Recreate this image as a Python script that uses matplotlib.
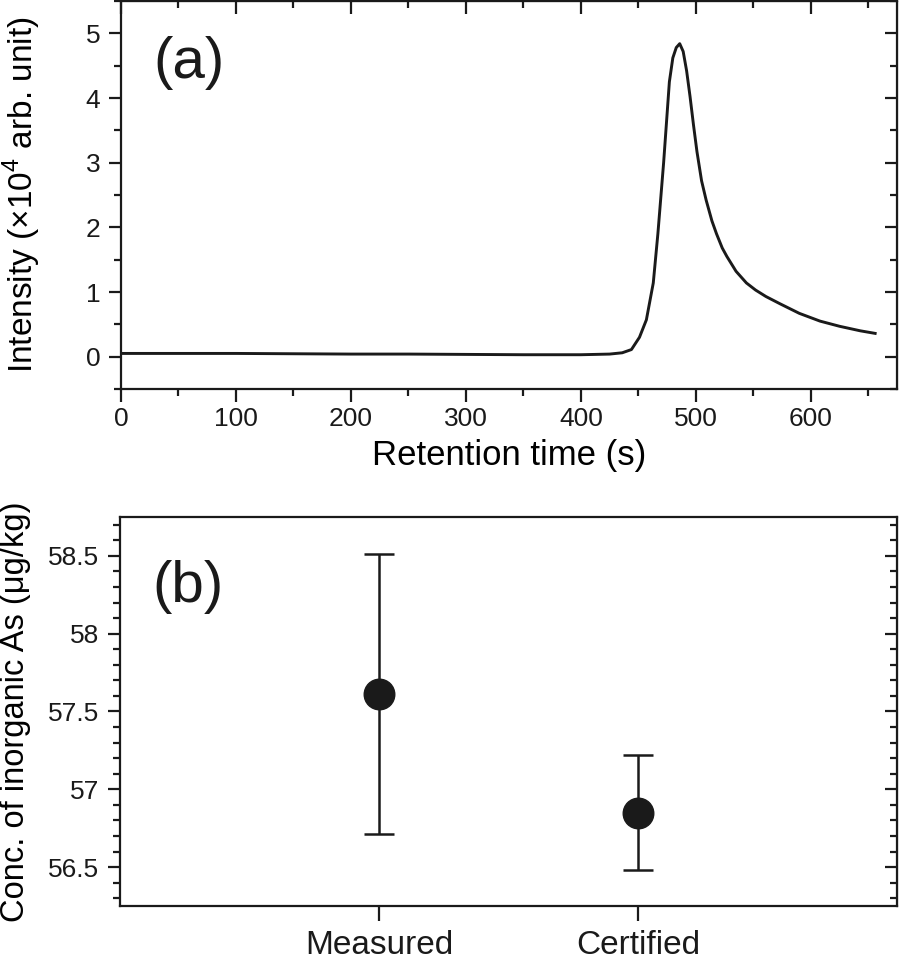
import matplotlib.pyplot as plt
from matplotlib.ticker import MultipleLocator
import numpy as np

plt.rcParams['font.family'] = ['Liberation Sans', 'DejaVu Sans']
plt.rcParams['mathtext.fontset'] = 'custom'
plt.rcParams['mathtext.rm'] = 'Liberation Sans'

# ============================================================
# DATA
# ============================================================

# (a) chromatogram
retention_time = [0, 50, 100, 150, 200, 250, 300, 350, 400, 425, 436, 444,
                  451, 457, 463, 467, 472, 477, 480, 483, 486, 489, 492,
                  495, 498, 501, 505, 509, 514, 518, 523, 527, 535, 544,
                  552, 561, 573, 590, 608, 625, 643, 656]
intensity = [0.05, 0.05, 0.05, 0.045, 0.04, 0.04, 0.035, 0.03, 0.03, 0.04,
             0.06, 0.11, 0.30, 0.57, 1.14, 1.90, 3.00, 4.25, 4.62, 4.78,
             4.84, 4.72, 4.42, 4.02, 3.58, 3.17, 2.72, 2.42, 2.10, 1.90,
             1.68, 1.55, 1.32, 1.14, 1.03, 0.93, 0.82, 0.67, 0.55, 0.47,
             0.40, 0.36]

# (b) inorganic As
samples = ["Measured", "Certified"]
conc = [57.61, 56.85]
conc_err = [0.90, 0.37]

# ============================================================
# FIGURE
# ============================================================

INK = "#1a1a1a"
TICK_FS = 19
LABEL_FS = 25

fig = plt.figure(figsize=(8.99, 9.6), dpi=100)

ax1 = fig.add_axes([121 / 899, 1 - 389 / 960, 776 / 899, 388 / 960])
ax2 = fig.add_axes([120 / 899, 1 - 906 / 960, 777 / 899, 389 / 960])

for ax in (ax1, ax2):
    for sp in ax.spines.values():
        sp.set_linewidth(1.6)
        sp.set_color(INK)
    ax.tick_params(which="both", width=1.6, labelsize=TICK_FS, colors=INK)
    ax.tick_params(which="major", length=9)
    ax.tick_params(which="minor", length=5)


def mirror_ticks(sec):
    # inward ticks on the opposite spine, no labels
    sec.tick_params(which="both", direction="in", width=1.6, colors=INK)
    sec.tick_params(which="major", length=9)
    sec.tick_params(which="minor", length=5)


# ---- (a) ----
ax1.plot(retention_time, intensity, color=INK, lw=2.1)
ax1.set_xlim(0, 675)
ax1.set_ylim(-0.5, 5.5)
ax1.xaxis.set_major_locator(MultipleLocator(100))
ax1.xaxis.set_minor_locator(MultipleLocator(50))
ax1.yaxis.set_major_locator(MultipleLocator(1))
ax1.yaxis.set_minor_locator(MultipleLocator(0.5))
ax1.tick_params(which="both", direction="out")
ax1.tick_params(axis="x", pad=4)
ax1.tick_params(axis="y", pad=6)
ax1.set_xlabel("Retention time (s)", fontsize=LABEL_FS, labelpad=6)
ax1.set_ylabel(r"Intensity ($\times$10$^4$ arb. unit)", fontsize=24)
ax1.yaxis.set_label_coords(-0.1, 0.5)
ax1.text(0.088, 0.84, "(a)", transform=ax1.transAxes, fontsize=42,
         ha="center", va="center", color=INK)

r1 = ax1.secondary_yaxis("right")
r1.yaxis.set_major_locator(MultipleLocator(1))
r1.yaxis.set_minor_locator(MultipleLocator(0.5))
r1.tick_params(which="both", labelright=False)
mirror_ticks(r1)
t1 = ax1.secondary_xaxis("top")
t1.xaxis.set_major_locator(MultipleLocator(100))
t1.xaxis.set_minor_locator(MultipleLocator(50))
t1.tick_params(which="both", labeltop=False)
mirror_ticks(t1)

# ---- (b) ----
xpos = np.arange(1, len(samples) + 1)
ax2.errorbar(xpos, conc, yerr=conc_err, fmt="o", color=INK,
             markersize=22, elinewidth=1.8, capsize=11, capthick=1.8)
ax2.set_xlim(0, 3)
ax2.set_ylim(56.25, 58.75)
ax2.set_xticks(xpos)
ax2.set_xticklabels(samples, fontsize=24)
ax2.yaxis.set_major_locator(MultipleLocator(0.5))
ax2.yaxis.set_minor_locator(MultipleLocator(0.1))
ax2.yaxis.set_major_formatter(plt.FuncFormatter(lambda v, p: f"{v:g}"))
ax2.tick_params(axis="x", which="major", length=11, pad=6)
ax2.tick_params(axis="y", which="both", direction="out", pad=6)
ax2.set_ylabel("Conc. of inorganic As (μg/kg)", fontsize=23.5)
ax2.yaxis.set_label_coords(-0.115, 0.5)
ax2.text(0.088, 0.82, "(b)", transform=ax2.transAxes, fontsize=42,
         ha="center", va="center", color=INK)

r2 = ax2.secondary_yaxis("right")
r2.yaxis.set_major_locator(MultipleLocator(0.5))
r2.yaxis.set_minor_locator(MultipleLocator(0.1))
r2.tick_params(which="both", labelright=False)
mirror_ticks(r2)

fig.savefig("out.png", dpi=100)
